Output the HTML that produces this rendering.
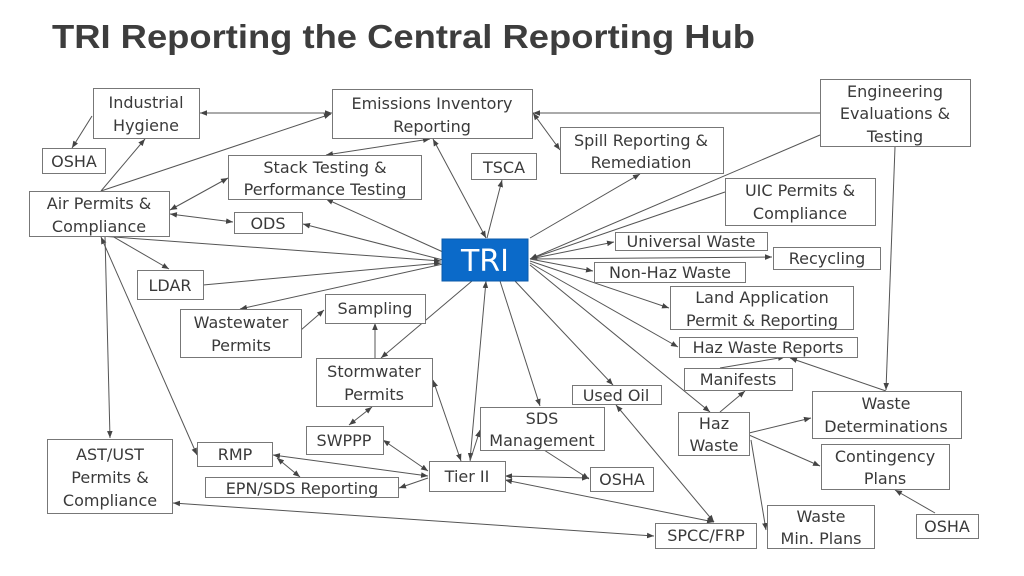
<!DOCTYPE html>
<html><head><meta charset="utf-8"><style>
html,body{margin:0;padding:0;background:#fff;}
svg{display:block;}
text{font-family:"DejaVu Sans","Liberation Sans",sans-serif;fill:#3a3a3a;}
</style></head><body>
<svg width="1024" height="576" viewBox="0 0 1024 576" xmlns="http://www.w3.org/2000/svg">
<defs>
<marker id="a" viewBox="0 0 10 10" refX="10" refY="5" markerWidth="7" markerHeight="7" orient="auto-start-reverse" markerUnits="userSpaceOnUse"><path d="M0,1 L10,5 L0,9 z" fill="#444"/></marker>
</defs>
<text x="52" y="48" font-size="33" font-weight="bold" style="font-family:'Liberation Sans',sans-serif;fill:#3d3d3d" textLength="703" lengthAdjust="spacingAndGlyphs">TRI Reporting the Central Reporting Hub</text>

<g stroke="#555" stroke-width="1" fill="none">
<!-- double-ended -->
<g marker-start="url(#a)" marker-end="url(#a)">
<line x1="200" y1="113" x2="332" y2="113"/>
<line x1="430" y1="139" x2="326" y2="155"/>
<line x1="433" y1="139" x2="486" y2="238"/>
<line x1="170" y1="210" x2="228" y2="178"/>
<line x1="170" y1="214" x2="233" y2="222"/>
<line x1="533" y1="113" x2="560" y2="150"/>
<line x1="530" y1="259" x2="614" y2="242"/>
<line x1="428" y1="471" x2="383" y2="440"/>
<line x1="428" y1="476" x2="273" y2="455"/>
<line x1="277" y1="458" x2="300" y2="477"/>
<line x1="349" y1="425" x2="372" y2="407"/>
<line x1="505" y1="476" x2="589" y2="478"/>
<line x1="505" y1="480" x2="714" y2="522"/>
<line x1="616" y1="405" x2="714" y2="522"/>
<line x1="173" y1="503" x2="654" y2="536"/>
<line x1="101" y1="237" x2="197" y2="455"/>
<line x1="433" y1="380" x2="461" y2="461"/>
<line x1="486" y1="281" x2="470" y2="460"/>
</g>
<!-- end arrows -->
<g marker-end="url(#a)">
<line x1="92" y1="116" x2="72" y2="148"/>
<line x1="101" y1="191" x2="145" y2="139"/>
<line x1="101" y1="191" x2="331" y2="114"/>
<line x1="443" y1="252" x2="326" y2="199"/>
<line x1="443" y1="260" x2="303" y2="224"/>
<line x1="100" y1="236" x2="441" y2="261"/>
<line x1="112" y1="236" x2="169" y2="269"/>
<line x1="203" y1="285" x2="441" y2="263"/>
<line x1="443" y1="264" x2="240" y2="309"/>
<line x1="301" y1="330" x2="324" y2="310"/>
<line x1="375" y1="358" x2="375" y2="323"/>
<line x1="472" y1="281" x2="381" y2="358"/>
<line x1="487" y1="238" x2="502" y2="180"/>
<line x1="530" y1="238" x2="640" y2="174"/>
<line x1="820" y1="113" x2="533" y2="113"/>
<line x1="820" y1="135" x2="530" y2="259"/>
<line x1="725" y1="192" x2="530" y2="259"/>
<line x1="530" y1="259" x2="772" y2="257"/>
<line x1="530" y1="259" x2="593" y2="271"/>
<line x1="530" y1="261" x2="669" y2="308"/>
<line x1="530" y1="263" x2="678" y2="347"/>
<line x1="530" y1="265" x2="710" y2="412"/>
<line x1="515" y1="281" x2="613" y2="385"/>
<line x1="500" y1="281" x2="540" y2="406"/>
<line x1="470" y1="461" x2="480" y2="430"/>
<line x1="428" y1="478" x2="399" y2="488"/>
<line x1="544" y1="450" x2="589" y2="479"/>
<line x1="105" y1="236" x2="110" y2="438"/>
<line x1="720" y1="412" x2="745" y2="391"/>
<line x1="720" y1="368" x2="785" y2="357"/>
<line x1="886" y1="391" x2="790" y2="358"/>
<line x1="895" y1="147" x2="886" y2="390"/>
<line x1="749" y1="433" x2="811" y2="418"/>
<line x1="749" y1="435" x2="820" y2="466"/>
<line x1="751" y1="440" x2="766" y2="530"/>
<line x1="935" y1="513" x2="895" y2="490"/>
</g>
</g>

<g fill="#fff" stroke="#777" stroke-width="1">
<rect x="93.5" y="88.5" width="106" height="50"/>
<rect x="332.5" y="89.5" width="200" height="49"/>
<rect x="820.5" y="79.5" width="150" height="67"/>
<rect x="42.5" y="148.5" width="63" height="25"/>
<rect x="560.5" y="127.5" width="163" height="46"/>
<rect x="471.5" y="153.5" width="65" height="26"/>
<rect x="228.5" y="155.5" width="193" height="44"/>
<rect x="29.5" y="191.5" width="140" height="45"/>
<rect x="234.5" y="212.5" width="68" height="21"/>
<rect x="725.5" y="178.5" width="150" height="47"/>
<rect x="615.5" y="232.5" width="152" height="18"/>
<rect x="773.5" y="247.5" width="107" height="22"/>
<rect x="594.5" y="262.5" width="151" height="20"/>
<rect x="137.5" y="270.5" width="66" height="29"/>
<rect x="670.5" y="286.5" width="183" height="43"/>
<rect x="325.5" y="294.5" width="100" height="29"/>
<rect x="180.5" y="309.5" width="121" height="48"/>
<rect x="679.5" y="337.5" width="178" height="20"/>
<rect x="316.5" y="358.5" width="116" height="48"/>
<rect x="684.5" y="368.5" width="108" height="22"/>
<rect x="572.5" y="385.5" width="89" height="19"/>
<rect x="480.5" y="407.5" width="124" height="43"/>
<rect x="678.5" y="412.5" width="71" height="43"/>
<rect x="812.5" y="391.5" width="149" height="47"/>
<rect x="306.5" y="426.5" width="77" height="28"/>
<rect x="47.5" y="439.5" width="125" height="74"/>
<rect x="197.5" y="442.5" width="75" height="24"/>
<rect x="821.5" y="444.5" width="128" height="45"/>
<rect x="429.5" y="461.5" width="76" height="30"/>
<rect x="590.5" y="467.5" width="63" height="24"/>
<rect x="205.5" y="477.5" width="193" height="20"/>
<rect x="655.5" y="523.5" width="101" height="25"/>
<rect x="767.5" y="505.5" width="107" height="43"/>
<rect x="916.5" y="514.5" width="62" height="24"/>
<rect x="442" y="239" width="86" height="42" fill="#0b6ac9" stroke="#0b5aa9"/>
</g>

<g font-size="16" text-anchor="middle">
<text x="146" y="108">Industrial</text><text x="146" y="131">Hygiene</text>
<text x="432" y="109">Emissions Inventory</text><text x="432" y="132">Reporting</text>
<text x="895" y="97">Engineering</text><text x="895" y="119">Evaluations &amp;</text><text x="895" y="142">Testing</text>
<text x="74" y="167">OSHA</text>
<text x="641" y="146">Spill Reporting &amp;</text><text x="641" y="168">Remediation</text>
<text x="504" y="173">TSCA</text>
<text x="325" y="173">Stack Testing &amp;</text><text x="325" y="195">Performance Testing</text>
<text x="99" y="209">Air Permits &amp;</text><text x="99" y="232">Compliance</text>
<text x="268" y="229">ODS</text>
<text x="800" y="196">UIC Permits &amp;</text><text x="800" y="219">Compliance</text>
<text x="691" y="247">Universal Waste</text>
<text x="827" y="264">Recycling</text>
<text x="670" y="278">Non-Haz Waste</text>
<text x="170" y="291">LDAR</text>
<text x="762" y="303">Land Application</text><text x="762" y="326">Permit &amp; Reporting</text>
<text x="375" y="314">Sampling</text>
<text x="241" y="328">Wastewater</text><text x="241" y="351">Permits</text>
<text x="768" y="353">Haz Waste Reports</text>
<text x="374" y="377">Stormwater</text><text x="374" y="400">Permits</text>
<text x="738" y="385">Manifests</text>
<text x="616" y="401">Used Oil</text>
<text x="542" y="424">SDS</text><text x="542" y="446">Management</text>
<text x="714" y="429">Haz</text><text x="714" y="451">Waste</text>
<text x="886" y="409">Waste</text><text x="886" y="432">Determinations</text>
<text x="344" y="446">SWPPP</text>
<text x="110" y="460">AST/UST</text><text x="110" y="483">Permits &amp;</text><text x="110" y="506">Compliance</text>
<text x="235" y="460">RMP</text>
<text x="885" y="462">Contingency</text><text x="885" y="484">Plans</text>
<text x="467" y="482">Tier II</text>
<text x="622" y="485">OSHA</text>
<text x="302" y="494">EPN/SDS Reporting</text>
<text x="706" y="541">SPCC/FRP</text>
<text x="821" y="522">Waste</text><text x="821" y="544">Min. Plans</text>
<text x="947" y="532">OSHA</text>
<text x="485" y="271" font-size="30" style="fill:#fff">TRI</text>
</g>
</svg>
</body></html>
